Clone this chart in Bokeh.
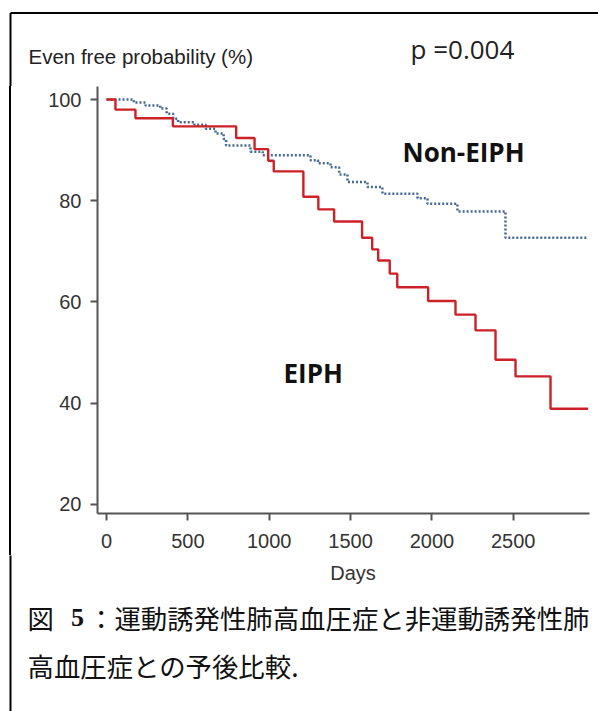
from bokeh.plotting import figure
from bokeh.layouts import column, row
from bokeh.models import FixedTicker, Range1d, ColumnDataSource, Spacer
from bokeh.core.properties import value
from bokeh.embed import file_html
from bokeh.resources import INLINE

# ---- data ----
eiph_days = [0, 55, 178, 408, 797, 910, 994, 1028, 1210, 1302, 1399, 1571, 1633,
             1670, 1741, 1787, 1977, 2145, 2268, 2391, 2514, 2729, 2960]
eiph_surv = [100, 98.0, 96.3, 94.7, 92.4, 90.2, 87.9, 85.8, 80.8, 78.3, 75.9, 72.7, 70.4,
             68.2, 65.6, 62.9, 60.2, 57.5, 54.4, 48.6, 45.3, 38.9, 38.9]

non_days = [0, 168, 240, 330, 370, 410, 440, 540, 610, 670, 720, 735, 885, 960, 1254,
            1300, 1377, 1430, 1481, 1604, 1696, 1912, 1973, 2157, 2452, 2960]
non_surv = [100, 99.4, 98.8, 98.2, 97.2, 96.2, 95.5, 95.0, 94.2, 93.3, 92.2, 90.9, 89.7,
            89.0, 88.0, 87.4, 86.6, 85.2, 83.7, 82.7, 81.4, 80.5, 79.4, 77.9, 72.7, 72.7]

x_ticks = [0, 500, 1000, 1500, 2000, 2500]
y_ticks = [20, 40, 60, 80, 100]

title_text = "Even free probability (%)"
p_text = "p =0.004"
label_non = "Non-EIPH"
label_eiph = "EIPH"
x_label = "Days"
caption_fig = "図"
caption_num = "5"
caption_line1 = "：運動誘発性肺高血圧症と非運動誘発性肺"
caption_line2 = "高血圧症との予後比較."

# ---- layout geometry (window pixels) ----
W, H = 598, 711
TOP_H = 86          # band above the plot frame
MAIN_H = 469        # main figure height (frame + x axis)
STRIP_W = 20        # strip at the left carrying the border line
BOT_H = H - TOP_H - MAIN_H
ML, MR, MT, MB = 77, 9, 0, 42
MAIN_W = W - STRIP_W
FRAME_W = MAIN_W - ML - MR
FRAME_H = MAIN_H - MT - MB
FRAME_LEFT = STRIP_W + ML
FRAME_TOP = TOP_H + MT
X0, X1 = -55.3, 2968.6
Y0, Y1 = 18.22, 102.57
BORDER_X, BORDER_Y = 10, 12.5


def wx(px):
    return X0 + (px - FRAME_LEFT) * (X1 - X0) / FRAME_W


def wy(py):
    return Y1 - (py - FRAME_TOP) * (Y1 - Y0) / FRAME_H


def blank(w, h, y_top, x_left=0):
    f = figure(width=w, height=h, output_backend="svg", toolbar_location=None,
               x_range=Range1d(x_left, x_left + w), y_range=Range1d(y_top + h, y_top),
               x_axis_type=None, y_axis_type=None, min_border=0)
    f.outline_line_color = None
    f.grid.visible = False
    f.background_fill_color = "white"
    f.border_fill_color = "white"
    return f


def txt(f, x, y, text, font, size, align="left", style="normal", color="#222222"):
    f.text(x=[x], y=[y], text=[text], text_font=value(font), text_font_size=size,
           text_align=align, text_baseline="middle", text_font_style=style,
           text_color=color)


# ---- top band: title, p value, border ----
top = blank(W, TOP_H, 0)
top.segment(x0=[BORDER_X, BORDER_X], y0=[BORDER_Y, BORDER_Y],
            x1=[W + 5, BORDER_X], y1=[BORDER_Y, TOP_H + 1],
            line_color="black", line_width=2)
txt(top, 28, 55.8, title_text, "Liberation Sans", "20.5px")
txt(top, 410, 48.7, p_text, "Open Sans", "26px")

# ---- left strip carrying the border line (a 2px black stripe at x = 9..11) ----
strip = Spacer(width=STRIP_W, height=MAIN_H,
               styles={"background": "linear-gradient(90deg, #ffffff 9px, #000000 9px, "
                                     "#000000 11px, #ffffff 11px)"})

# ---- main Kaplan-Meier plot ----
p = figure(width=MAIN_W, height=MAIN_H, output_backend="svg", toolbar_location=None,
           x_range=Range1d(X0, X1), y_range=Range1d(Y0, Y1),
           min_border_left=ML, min_border_right=MR, min_border_top=MT,
           min_border_bottom=MB)
p.outline_line_color = None
p.xgrid.visible = False
p.ygrid.visible = False
p.background_fill_color = "white"
p.border_fill_color = "white"

p.xaxis.ticker = FixedTicker(ticks=x_ticks)
p.yaxis.ticker = FixedTicker(ticks=y_ticks)
for ax in (p.xaxis[0], p.yaxis[0]):
    ax.axis_line_width = 2
    ax.axis_line_color = "#555555"
    ax.major_tick_line_width = 2
    ax.major_tick_line_color = "#555555"
    ax.major_tick_out = 7
    ax.major_tick_in = 0
    ax.minor_tick_out = 0
    ax.minor_tick_in = 0
    ax.major_label_text_font = "Liberation Sans"
    ax.major_label_text_font_size = "20px"
    ax.major_label_text_color = "#333333"
p.yaxis.major_label_standoff = 9
p.xaxis.major_label_standoff = 13

src_non = ColumnDataSource(dict(x=non_days, y=non_surv))
src_eiph = ColumnDataSource(dict(x=eiph_days, y=eiph_surv))
p.step("x", "y", source=src_non, mode="after", line_color="#44688f",
       line_width=2.5, line_dash="2 2")
p.step("x", "y", source=src_eiph, mode="after", line_color="#cc2127",
       line_width=2.4)

txt(p, wx(402), wy(151.8), label_non, "Open Sans", "26px", style="bold", color="#111111")
txt(p, wx(283), wy(372.5), label_eiph, "Open Sans", "26px", style="bold", color="#111111")

# ---- bottom band: axis title, caption, border ----
bot = blank(W, BOT_H, TOP_H + MAIN_H)
bot.segment(x0=[BORDER_X], y0=[TOP_H + MAIN_H - 1], x1=[BORDER_X], y1=[H + 5],
            line_color="black", line_width=2)
txt(bot, 352.5, 572, x_label, "Liberation Sans", "20px", align="center", color="#333333")
txt(bot, 27, 616.7, caption_fig, "Noto Sans CJK JP", "26.4px", color="#111111")
txt(bot, 77, 617, caption_num, "Liberation Serif", "26px", align="center",
    style="bold", color="#111111")
txt(bot, 87.5, 616.7, caption_line1, "Noto Sans CJK JP", "26.4px", color="#111111")
txt(bot, 27, 665, caption_line2, "Noto Sans CJK JP", "26.4px", color="#111111")

layout = column(top, row(strip, p), bot)
open("out.html", "w").write(file_html(layout, INLINE))
